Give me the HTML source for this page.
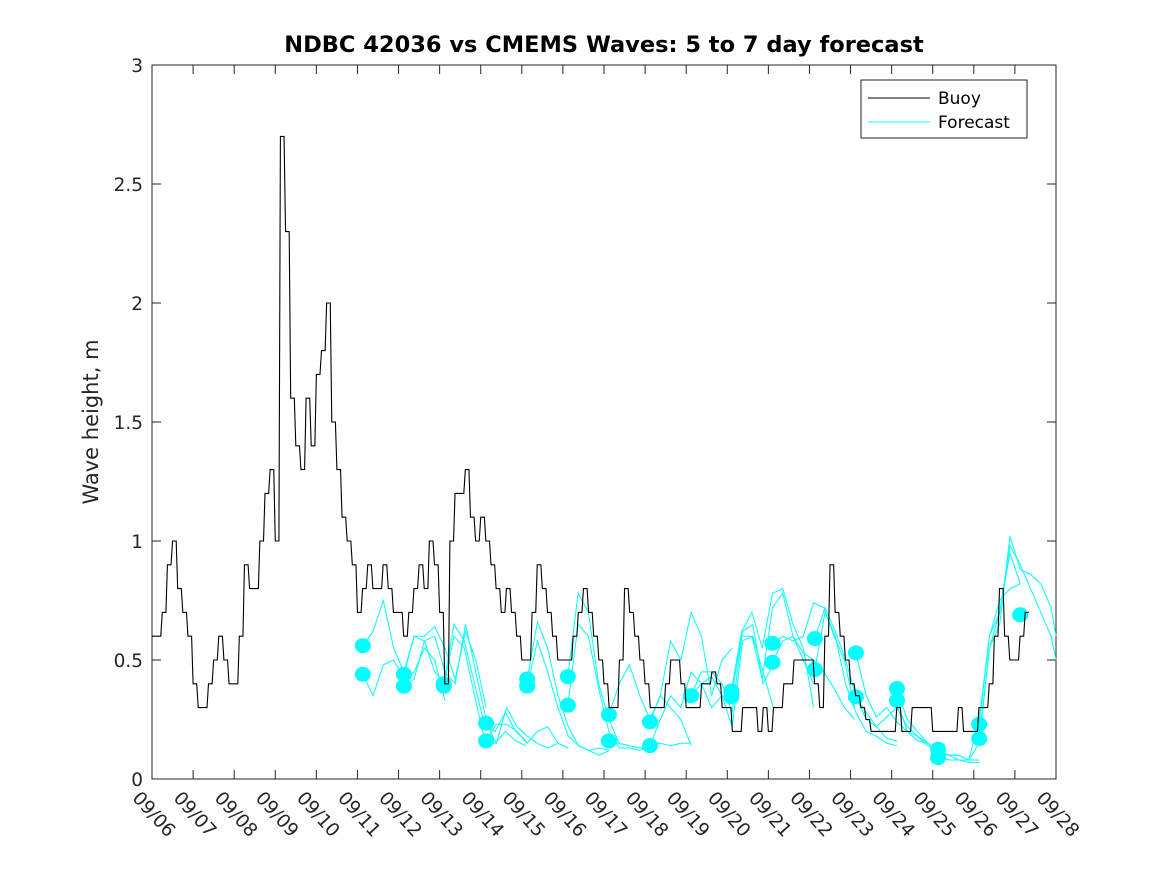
<!DOCTYPE html>
<html><head><meta charset="utf-8"><style>
body{margin:0;background:#fff}
svg{display:block;font-family:"DejaVu Sans","Liberation Sans",sans-serif}
</style></head><body>
<svg id="chart" width="1167" height="875" xmlns="http://www.w3.org/2000/svg">
<rect width="1167" height="875" fill="#fff"/>
<text x="604" y="52" text-anchor="middle" font-size="22.5" font-weight="bold" fill="#000">NDBC 42036 vs CMEMS Waves: 5 to 7 day forecast</text>
<text transform="translate(98,422) rotate(-90)" text-anchor="middle" font-size="21" fill="#262626">Wave height, m</text>
<g id="axes"></g>
<g id="series"></g>
<g>
<rect x="861" y="80" width="166" height="58" fill="#fff" stroke="#262626" stroke-width="1"/>
<line x1="868" y1="98" x2="930" y2="98" stroke="#000" stroke-width="1"/>
<text x="938" y="104" font-size="17" fill="#000">Buoy</text>
<line x1="868" y1="122" x2="930" y2="122" stroke="#00ffff" stroke-width="1"/>
<text x="938" y="128" font-size="17" fill="#000">Forecast</text>
</g>
</svg>
<script>
const xTickLabels=["09/06","09/07","09/08","09/09","09/10","09/11","09/12","09/13","09/14","09/15","09/16","09/17","09/18","09/19","09/20","09/21","09/22","09/23","09/24","09/25","09/26","09/27","09/28"];
const yTicks=[0,0.5,1,1.5,2,2.5,3];
const buoy=[0.6,0.6,0.7,0.9,1.0,0.8,0.7,0.6,
0.4,0.3,0.3,0.4,0.5,0.6,0.5,0.4,
0.4,0.6,0.9,0.8,0.8,1.0,1.2,1.3,
1.0,2.7,2.3,1.6,1.4,1.3,1.6,1.4,
1.7,1.8,2.0,1.5,1.3,1.1,1.0,0.9,
0.7,0.8,0.9,0.8,0.8,0.9,0.8,0.7,
0.7,0.6,0.7,0.8,0.9,0.8,1.0,0.9,
0.7,0.4,1.0,1.2,1.2,1.3,1.1,1.0,
1.1,1.0,0.9,0.8,0.7,0.8,0.7,0.6,
0.5,0.5,0.7,0.9,0.8,0.7,0.6,0.5,
0.5,0.5,0.6,0.7,0.8,0.7,0.6,0.5,
0.4,0.3,0.3,0.5,0.8,0.7,0.6,0.5,
0.4,0.3,0.3,0.3,0.4,0.5,0.5,0.4,
0.3,0.3,0.3,0.4,0.4,0.45,0.4,0.3,
0.3,0.2,0.2,0.3,0.3,0.3,0.2,0.3,
0.2,0.3,0.3,0.4,0.4,0.5,0.5,0.5,
0.5,0.4,0.3,0.6,0.9,0.7,0.6,0.5,
0.4,0.35,0.3,0.25,0.2,0.2,0.2,0.2,
0.2,0.3,0.2,0.2,0.3,0.3,0.3,0.3,
0.2,0.2,0.2,0.2,0.2,0.3,0.2,0.2,
0.2,0.3,0.3,0.4,0.6,0.8,0.6,0.5,
0.5,0.6,0.7];
const fcStart=[5.13,5.13,6.13,6.13,7.1,7.1,8.13,8.13,9.13,9.13,10.12,10.12,11.12,11.12,12.12,12.12,13.12,13.12,14.1,14.1,15.1,15.1,16.13,16.13,17.13,17.13,18.13,18.13,19.13,19.13,20.13,20.13,21.13];
const fcValues=[
[0.56,0.62,0.75,0.55,0.45,0.60,0.58,0.45,0.40],
[0.44,0.35,0.48,0.50,0.42,0.45,0.55,0.50,0.33],
[0.44,0.60,0.60,0.64,0.55,0.42,0.62,0.50,0.30],
[0.39,0.42,0.58,0.60,0.45,0.40,0.65,0.45,0.25],
[0.40,0.65,0.58,0.40,0.22,0.20,0.28,0.20,0.16],
[0.39,0.60,0.55,0.35,0.16,0.15,0.20,0.16,0.14],
[0.235,0.15,0.30,0.22,0.18,0.15,0.13,0.15,0.13],
[0.16,0.23,0.23,0.20,0.15,0.20,0.22,0.15,0.13],
[0.42,0.66,0.55,0.35,0.22,0.14,0.12,0.13,0.12],
[0.39,0.58,0.45,0.30,0.18,0.14,0.12,0.10,0.12],
[0.43,0.78,0.70,0.40,0.25,0.15,0.14,0.13,0.13],
[0.31,0.65,0.60,0.38,0.20,0.13,0.13,0.12,0.14],
[0.27,0.40,0.48,0.35,0.25,0.35,0.30,0.25,0.14],
[0.16,0.15,0.14,0.13,0.14,0.15,0.14,0.15,0.15],
[0.24,0.35,0.58,0.50,0.70,0.60,0.35,0.50,0.55],
[0.14,0.25,0.35,0.30,0.45,0.40,0.30,0.35,0.33],
[0.35,0.45,0.45,0.40,0.28,0.62,0.65,0.40,0.48],
[0.35,0.40,0.43,0.35,0.22,0.58,0.60,0.45,0.30],
[0.37,0.62,0.70,0.55,0.78,0.80,0.65,0.55,0.30],
[0.345,0.60,0.60,0.42,0.72,0.78,0.60,0.50,0.40],
[0.57,0.60,0.58,0.60,0.74,0.72,0.60,0.50,0.30],
[0.49,0.58,0.60,0.53,0.50,0.45,0.38,0.30,0.25],
[0.59,0.72,0.62,0.50,0.35,0.25,0.22,0.17,0.16],
[0.46,0.70,0.60,0.40,0.28,0.20,0.18,0.15,0.14],
[0.53,0.35,0.26,0.30,0.24,0.20,0.16,0.15,0.12],
[0.345,0.28,0.22,0.26,0.30,0.22,0.18,0.14,0.12],
[0.38,0.25,0.20,0.15,0.12,0.10,0.10,0.08,0.08],
[0.33,0.20,0.18,0.15,0.12,0.10,0.08,0.07,0.07],
[0.125,0.10,0.10,0.08,0.15,0.55,0.70,0.95,0.82],
[0.09,0.08,0.08,0.08,0.25,0.60,0.75,0.80,0.82],
[0.23,0.60,0.70,0.98,0.90,0.80,0.70,0.60,0.50],
[0.17,0.55,0.65,1.02,0.88,0.86,0.82,0.72,0.60],
[0.69]];
const X0=152,X1=1056,Y0=779,Y1=65;
const x=d=>X0+d*(X1-X0)/22;
const y=v=>Y0-v*(Y0-Y1)/3;
const NS="http://www.w3.org/2000/svg";
const axes=document.getElementById('axes'),ser=document.getElementById('series');
function mk(tag,attrs,parent){const e=document.createElementNS(NS,tag);for(const k in attrs)e.setAttribute(k,attrs[k]);parent.appendChild(e);return e;}
let r=mk('rect',{x:X0,y:Y1,width:X1-X0,height:Y0-Y1,fill:'none',stroke:'#262626','stroke-width':1},axes);


xTickLabels.forEach((lab,i)=>{const px=x(i);
 mk('line',{x1:px,y1:Y0,x2:px,y2:Y0-9,stroke:'#262626'},axes);
 mk('line',{x1:px,y1:Y1,x2:px,y2:Y1+9,stroke:'#262626'},axes);
 const t=mk('text',{transform:`translate(${px-11},${790}) rotate(48)`,'font-size':18.5,fill:'#262626','dominant-baseline':'hanging'},axes);
 t.textContent=lab;
 
 
});
yTicks.forEach(v=>{const py=y(v);
 mk('line',{x1:X0,y1:py,x2:X0+9,y2:py,stroke:'#262626'},axes);
 mk('line',{x1:X1,y1:py,x2:X1-9,y2:py,stroke:'#262626'},axes);
 const t=mk('text',{x:X0-9,y:py+7,'text-anchor':'end','font-size':18.5,fill:'#262626'},axes);
 t.textContent=String(v);
 
 
});
fcValues.forEach((vals,i)=>{const s=fcStart[i];
 const pts=vals.map((v,j)=>[Math.min(x(s+j*0.25),X1),y(v)]);
 if(vals.length>1){const p=mk('polyline',{points:pts.map(q=>q.join(',')).join(' '),fill:'none',stroke:'#00ffff','stroke-width':1},ser);
 
 }
 const c=mk('ellipse',{cx:x(s),cy:y(vals[0]),rx:8,ry:7.5,fill:'#00ffff'},ser);
 
 
});
let bpts=[];
buoy.forEach((v,i)=>{const xa=x(i*0.125),xb=x((i+1)*0.125)-1.5;bpts.push(xa+','+y(v));bpts.push(xb+','+y(v));});
const bp=mk('polyline',{points:bpts.join(' '),fill:'none',stroke:'#000','stroke-width':1.1},ser);


</script>
</body></html>
